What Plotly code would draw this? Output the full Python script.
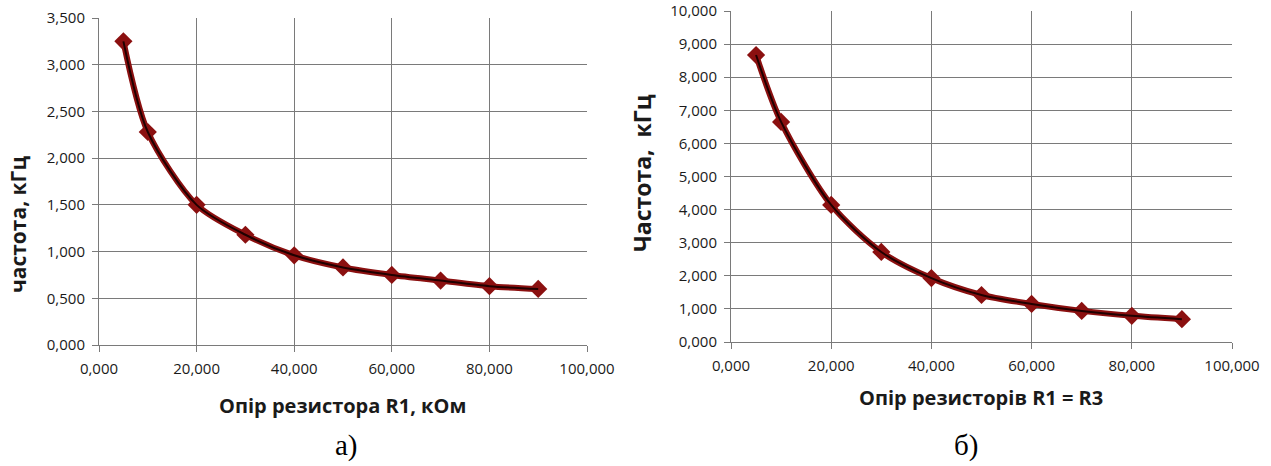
import plotly.graph_objects as go

# Data (resistance, kOhm ; frequency, kHz)
r_left = [5, 10, 20, 30, 40, 50, 60, 70, 80, 90]
f_left = [3.25, 2.28, 1.50, 1.18, 0.96, 0.83, 0.75, 0.69, 0.63, 0.60]

r_right = [5, 10, 20, 30, 40, 50, 60, 70, 80, 90]
f_right = [8.67, 6.65, 4.14, 2.72, 1.93, 1.42, 1.15, 0.94, 0.79, 0.69]

RED = "#8b1010"
GRID = "#7a7a7a"
TXT = "#1a1a1a"

fig = go.Figure()

def add_series(x, y, xa, ya):
    fig.add_trace(go.Scatter(
        x=x, y=y, xaxis=xa, yaxis=ya, mode="lines+markers",
        line=dict(color=RED, width=6, shape="spline", smoothing=0.8),
        marker=dict(symbol="diamond", size=14, color=RED),
        showlegend=False, hoverinfo="skip"))
    fig.add_trace(go.Scatter(
        x=x, y=y, xaxis=xa, yaxis=ya, mode="lines",
        line=dict(color="#200000", width=2, shape="spline", smoothing=0.8),
        showlegend=False, hoverinfo="skip"))

add_series(r_left, f_left, "x", "y")
add_series(r_right, f_right, "x2", "y2")

axis_common = dict(
    showgrid=True, gridcolor=GRID, gridwidth=1,
    showline=True, linecolor=GRID, linewidth=1,
    ticks="outside", ticklen=6, tickcolor=GRID,
    tickformat=".3f", zeroline=False, automargin=False,
    tickfont=dict(family="Open Sans", size=15, color=TXT),
    ticklabelstandoff=4,
)

fig.update_layout(
    template="none",
    width=1271, height=466,
    margin=dict(l=0, r=0, t=0, b=0, pad=0),
    paper_bgcolor="white", plot_bgcolor="white",
    separators=", ",
    xaxis=dict(domain=[99/1271, 587/1271], range=[0, 100], dtick=20, anchor="y",
               **axis_common),
    yaxis=dict(domain=[(466-345)/466, (466-18)/466], range=[0, 3.5], dtick=0.5,
               anchor="x", **axis_common),
    xaxis2=dict(domain=[731/1271, 1232/1271], range=[0, 100], dtick=20, anchor="y2",
                **axis_common),
    yaxis2=dict(domain=[(466-342)/466, (466-11)/466], range=[0, 10], dtick=1,
                anchor="x2", **axis_common),
)

ann_font = dict(family="Open Sans", size=20, color=TXT)
fig.add_annotation(text="<b>Опір резистора R1, кОм</b>", x=343/1271, y=(466-405)/466,
                   xref="paper", yref="paper", showarrow=False, font=ann_font,
                   xanchor="center", yanchor="middle")
fig.add_annotation(text="<b>Опір резисторів R1 = R3</b>", x=981/1271, y=(466-397)/466,
                   xref="paper", yref="paper", showarrow=False, font=ann_font,
                   xanchor="center", yanchor="middle")
fig.add_annotation(text="<b>частота, кГц</b>", x=18/1271, y=(466-225)/466,
                   xref="paper", yref="paper", showarrow=False,
                   font=dict(family="Open Sans", size=21, color=TXT),
                   textangle=-90, xanchor="center", yanchor="middle")
fig.add_annotation(text="<b>Частота,  кГц</b>", x=642/1271, y=(466-173)/466,
                   xref="paper", yref="paper", showarrow=False,
                   font=dict(family="Open Sans", size=23, color=TXT),
                   textangle=-90, xanchor="center", yanchor="middle")
cap_font = dict(family="Liberation Serif", size=29, color="black")
fig.add_annotation(text="а)", x=346/1271, y=(466-445)/466, xref="paper", yref="paper",
                   showarrow=False, font=cap_font, xanchor="center", yanchor="middle")
fig.add_annotation(text="б)", x=966/1271, y=(466-445)/466, xref="paper", yref="paper",
                   showarrow=False, font=cap_font, xanchor="center", yanchor="middle")

fig.write_html("out.html")
